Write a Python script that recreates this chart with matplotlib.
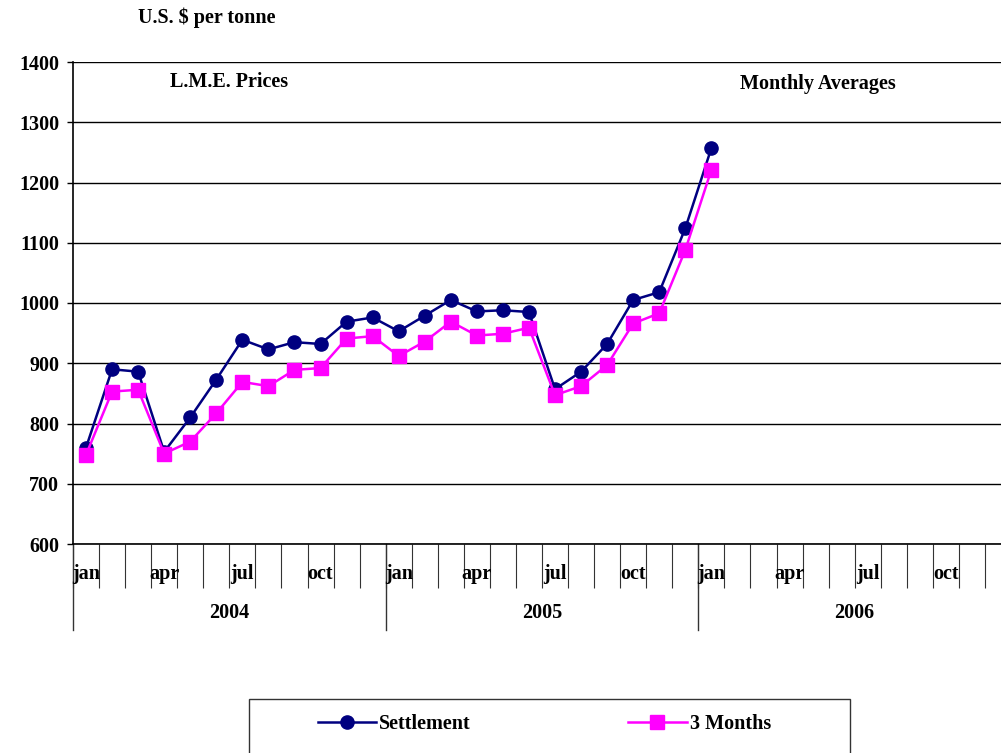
import matplotlib
matplotlib.use("Agg")
import matplotlib.pyplot as plt
from matplotlib.patches import Rectangle
from matplotlib.transforms import blended_transform_factory

plt.rcParams['font.family'] = ['Liberation Serif', 'DejaVu Serif']
plt.rcParams['font.weight'] = 'bold'

# monthly averages, jan 2004 .. jan 2006
settlement = [760, 890, 886, 753, 810, 873, 939, 923, 935, 932, 969, 976,
              953, 979, 1005, 986, 988, 985, 857, 886, 932, 1005, 1018, 1124,
              1257]
three_months = [748, 853, 856, 750, 770, 817, 869, 862, 889, 892, 941, 945,
                912, 936, 969, 946, 949, 959, 847, 862, 897, 966, 983, 1088,
                1221]
years = ['2004', '2005', '2006']
month_labels = ['jan', 'apr', 'jul', 'oct']
yticks = [600, 700, 800, 900, 1000, 1100, 1200, 1300, 1400]

W, H = 1001, 753
FS = 14.5
fig = plt.figure(figsize=(W / 100, H / 100), dpi=100)
# plot area: x 73..1011 px (runs off the right edge), y 62..544 px
ax = fig.add_axes([73 / W, (H - 544) / H, (1011 - 73) / W, (544 - 62) / H])

xs = [i + 0.5 for i in range(len(settlement))]
ax.plot(xs, settlement, color='#000080', lw=1.8, marker='o', ms=9.5,
        label='Settlement', zorder=3)
ax.plot(xs, three_months, color='#FF00FF', lw=1.8, marker='s', ms=9.5,
        label='3 Months', zorder=3)

ax.set_xlim(0, 36)
ax.set_ylim(600, 1400)
ax.set_yticks(yticks)
ax.set_yticklabels([str(v) for v in yticks], fontsize=FS, fontweight='bold')
ax.yaxis.grid(True, color='black', lw=1)
ax.set_axisbelow(True)
ax.tick_params(axis='y', direction='out', length=4, width=1, pad=6)

ax.set_xticks(range(0, 37))
ax.set_xticklabels([])
ax.tick_params(axis='x', direction='out', length=31.5, width=0.8, color='#333333')

for s in ['top', 'right']:
    ax.spines[s].set_visible(False)
ax.spines['left'].set_linewidth(1.2)
ax.spines['bottom'].set_linewidth(1.2)

trans = blended_transform_factory(ax.transData, ax.transAxes)
px = 1 / 482
for yi, yr in enumerate(years):
    for mi, lab in enumerate(month_labels):
        ax.text(yi * 12 + mi * 3 + 0.5, -30 * px, lab, transform=trans,
                ha='center', va='center', fontsize=FS, fontweight='bold')
    ax.text(yi * 12 + 6, -69 * px, yr, transform=trans, ha='center',
            va='center', fontsize=FS, fontweight='bold')
    ax.plot([yi * 12, yi * 12], [0, -86 * px], transform=trans, color='#333333',
            lw=1, clip_on=False)

fig.text(207 / W, 1 - 18 / H, 'U.S. $ per tonne', ha='center', va='center',
         fontsize=FS, fontweight='bold')
fig.text(229 / W, 1 - 82 / H, 'L.M.E. Prices', ha='center', va='center',
         fontsize=FS, fontweight='bold')
fig.text(818 / W, 1 - 84 / H, 'Monthly Averages', ha='center', va='center',
         fontsize=FS, fontweight='bold')

# legend box (cut off at the bottom edge)
fig.patches.append(Rectangle((249 / W, -0.05), (850 - 249) / W, 0.05 + (H - 699) / H,
                             transform=fig.transFigure, fill=False,
                             edgecolor='#333333', lw=1))
fig.legend(loc='center left', bbox_to_anchor=(318 / W, (H - 724) / H), ncol=2,
           frameon=False, handlelength=2.9, handletextpad=0.15,
           columnspacing=7.8, borderpad=0, borderaxespad=0,
           prop={'weight': 'bold', 'size': FS})

fig.savefig('out.png', dpi=100)
